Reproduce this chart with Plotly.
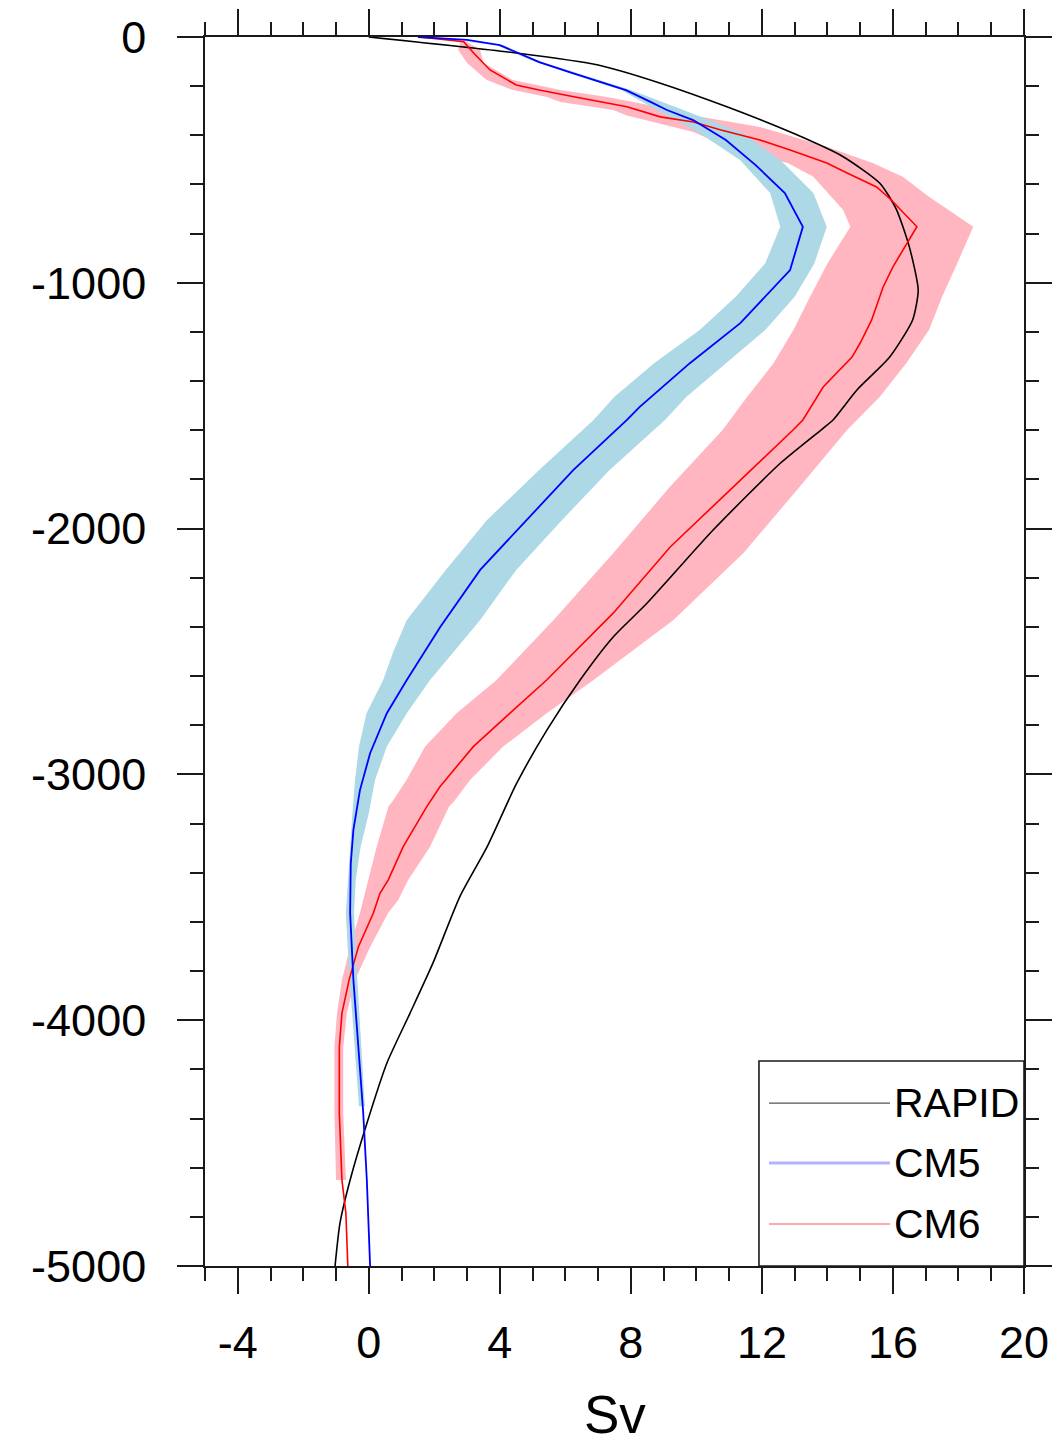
import plotly.graph_objects as go

# ---------------- data ----------------
# RAPID (black line): depth (m, negative) and transport (Sv)
rapid_depth = [0, -65, -114, -188, -284, -392, -487, -595, -700, -854, -1029, -1151,
               -1302, -1436, -1558, -1599, -1734, -2006, -2304, -2441, -2616, -2819,
               -3040, -3295, -3497, -3767, -3971, -4175, -4420, -4650, -4826, -5000]
rapid_sv = [0.0, 4.5, 7.0, 8.9, 10.93, 12.96, 14.48, 15.6, 16.1, 16.5, 16.77, 16.6,
            15.9, 14.9, 14.17, 13.8, 12.56, 10.51, 8.49, 7.46, 6.45, 5.44,
            4.5, 3.61, 2.78, 1.96, 1.26, 0.55, -0.06, -0.57, -0.88, -1.03]

# CM5 ensemble mean (blue line)
cm5_depth = [0, -12, -33, -69, -102, -146, -216, -264, -297, -338, -419, -520, -635,
             -772, -948, -1164, -1327, -1505, -1558, -1762, -1993, -2168, -2400,
             -2616, -2751, -2914, -3064, -3226, -3362, -3564, -3836, -4109, -4378,
             -4650, -5000]
cm5_sv = [1.5, 3.0, 4.0, 4.6, 5.2, 6.2, 7.85, 8.6, 9.1, 9.9, 10.9, 11.8, 12.7,
          13.25, 12.86, 11.34, 9.8, 8.27, 7.88, 6.24, 4.62, 3.40, 2.18,
          1.16, 0.55, 0.04, -0.27, -0.47, -0.55, -0.57, -0.47, -0.32, -0.17,
          -0.06, 0.04]

# CM6 ensemble mean (red line)
cm6_depth = [0, -19, -65, -134, -195, -216, -244, -268, -284, -325, -346, -378, -419,
             -460, -513, -553, -610, -663, -772, -935, -1017, -1151, -1245, -1302,
             -1424, -1558, -1599, -1831, -2075, -2344, -2616, -2751, -2887, -3050,
             -3131, -3294, -3430, -3484, -3564, -3702, -3836, -3971, -4109, -4378,
             -4650, -4784, -5000]
cm6_sv = [1.55, 2.9, 3.2, 3.7, 4.5, 5.2, 6.3, 7.3, 7.88, 8.9, 9.91, 10.75, 11.94,
          12.86, 13.98, 14.6, 15.5, 15.95, 16.73, 16.0, 15.7, 15.35, 15.0, 14.75,
          13.87, 13.25, 12.95, 11.12, 9.2, 7.46, 5.43, 4.31, 3.19, 2.17,
          1.77, 1.05, 0.59, 0.34, 0.14, -0.32, -0.6, -0.82, -0.9, -0.9,
          -0.82, -0.7, -0.64]

# CM5 spread band (light blue): lower / upper bounds
cm5_band_depth = [0, -33, -69, -102, -146, -216, -297, -392, -500, -635, -772, -921,
                  -1057, -1192, -1328, -1464, -1558, -1762, -1965, -2168, -2372,
                  -2500, -2616, -2751, -2887, -3023, -3158, -3294, -3430, -3564,
                  -3767, -4000, -4350]
cm5_band_lo = [1.5, 3.9, 4.5, 5.1, 6.1, 7.7, 8.8, 10.1, 11.33, 12.25, 12.56, 12.1,
               11.2, 10.1, 8.7, 7.5, 6.86, 5.2, 3.61, 2.35, 1.16,
               0.75, 0.44, -0.07, -0.3, -0.42, -0.5, -0.57, -0.62, -0.7,
               -0.62, -0.5, -0.3]
cm5_band_hi = [1.6, 4.1, 4.7, 5.3, 6.35, 8.0, 9.6, 11.43, 12.56, 13.57, 13.98, 13.6,
               13.0, 12.1, 10.9, 9.7, 9.04, 7.35, 5.9, 4.5, 3.4,
               2.6, 1.87, 1.16, 0.55, 0.19, 0.0, -0.25, -0.4, -0.45,
               -0.38, -0.28, -0.12]

# CM6 spread band (pink): lower / upper bounds
cm6_band_depth = [-20, -53, -106, -175, -216, -244, -264, -297, -319, -366, -387,
                  -446, -514, -569, -650, -704, -772, -921, -1057, -1192, -1328,
                  -1464, -1599, -1829, -2100, -2372, -2616, -2751, -2887, -3023,
                  -3110, -3131, -3294, -3430, -3511, -3564, -3702, -3836, -3971,
                  -4109, -4378, -4650]
cm6_band_lo = [2.8, 2.73, 3.0, 3.6, 4.4, 5.44, 5.85, 7.46, 7.88, 9.3, 9.91,
               10.93, 12.8, 13.57, 14.1, 14.48, 14.7, 14.0, 13.47, 12.96, 12.35,
               11.55, 10.8, 9.2, 7.46, 5.64, 3.9, 2.68, 1.72, 1.15,
               0.72, 0.6, 0.24, -0.02, -0.17, -0.27, -0.57, -0.82, -0.97,
               -1.05, -1.05, -1.0]
cm6_band_hi = [3.0, 3.4, 3.5, 4.4, 5.85, 7.27, 8.07, 9.3, 9.91, 11.94, 12.5,
               13.98, 15.4, 16.3, 17.1, 17.7, 18.45, 17.96, 17.5, 17.1, 16.4,
               15.6, 14.6, 13.16, 11.43, 9.3, 6.86, 5.43, 4.1, 3.09,
               2.6, 2.45, 1.87, 1.2, 0.9, 0.59, 0.04, -0.42, -0.67,
               -0.78, -0.78, -0.7]

# axis ticks
x_tick_vals = [-4, 0, 4, 8, 12, 16, 20]
x_tick_text = ["-4", "0", "4", "8", "12", "16", "20"]
y_tick_vals = [0, -1000, -2000, -3000, -4000, -5000]
y_tick_text = ["0", "-1000", "-2000", "-3000", "-4000", "-5000"]

legend_names = ["RAPID", "CM5", "CM6"]
x_title = "Sv"

# ---------------- styles ----------------
FONT = "Liberation Sans, Arial, Helvetica, sans-serif"
AX = "#1a1a1a"
PINK = "#ffb6c1"
LIGHTBLUE = "#add8e6"

fig = go.Figure()

# bands (closed polygons built from lower/upper bounds)
fig.add_trace(go.Scatter(
    x=cm6_band_lo + cm6_band_hi[::-1],
    y=cm6_band_depth + cm6_band_depth[::-1],
    fill="toself", fillcolor=PINK, line=dict(width=0), mode="lines",
    hoverinfo="skip", showlegend=False))
fig.add_trace(go.Scatter(
    x=cm5_band_lo + cm5_band_hi[::-1],
    y=cm5_band_depth + cm5_band_depth[::-1],
    fill="toself", fillcolor=LIGHTBLUE, line=dict(width=0), mode="lines",
    hoverinfo="skip", showlegend=False))

# lines
fig.add_trace(go.Scatter(x=rapid_sv, y=rapid_depth, mode="lines",
                         line=dict(color="#000000", width=1.6, shape="spline", smoothing=0.6),
                         name=legend_names[0], showlegend=False))
fig.add_trace(go.Scatter(x=cm6_sv, y=cm6_depth, mode="lines",
                         line=dict(color="#ff0000", width=1.6),
                         name=legend_names[2], showlegend=False))
fig.add_trace(go.Scatter(x=cm5_sv, y=cm5_depth, mode="lines",
                         line=dict(color="#0000ff", width=1.8),
                         name=legend_names[1], showlegend=False))

axis_common = dict(
    showgrid=False, zeroline=False, automargin=False,
    showline=True, linecolor=AX, linewidth=1.6,
    mirror="allticks",
    ticks="outside", ticklen=26, tickwidth=1.6, tickcolor=AX,
    tickfont=dict(family=FONT, size=45, color="#000000"),
)

fig.update_xaxes(
    range=[-5, 20], tickmode="array", tickvals=x_tick_vals, ticktext=x_tick_text,
    minor=dict(ticks="outside", ticklen=13, tickwidth=1.6, tickcolor=AX,
               tickmode="linear", tick0=0, dtick=1),
    ticklabelstandoff=10,
    **axis_common)
fig.update_yaxes(
    range=[-5000, 0], tickmode="array", tickvals=y_tick_vals, ticktext=y_tick_text,
    minor=dict(ticks="outside", ticklen=13, tickwidth=1.6, tickcolor=AX,
               tickmode="linear", tick0=0, dtick=200),
    ticklabelstandoff=22,
    **axis_common)

# manual legend (NCL-style box in lower right)
shapes = [dict(type="rect", xref="paper", yref="paper", x0=0.6764, x1=1.0,
               y0=0.0, y1=0.1668, line=dict(color=AX, width=1.6),
               fillcolor="white", layer="above")]
legend_styles = [("#555555", 1.2), ("#b3b3ff", 3.0), ("#ff8c8c", 1.6)]
legend_ys = [0.1326, 0.0838, 0.0342]
annotations = []
for name, (col, w), yy in zip(legend_names, legend_styles, legend_ys):
    shapes.append(dict(type="line", xref="paper", yref="paper", x0=0.6886, x1=0.8364,
                       y0=yy, y1=yy, line=dict(color=col, width=w), layer="above"))
    annotations.append(dict(xref="paper", yref="paper", x=0.8390, y=yy, text=name,
                            showarrow=False, xanchor="left", yanchor="middle",
                            font=dict(family=FONT, size=41, color="#000000")))

annotations.append(dict(xref="paper", yref="paper", x=0.5, y=-0.1465, text=x_title,
                        showarrow=False, xanchor="center", yanchor="bottom",
                        font=dict(family=FONT, size=53, color="#000000")))

# the page adds an 8px body margin, so the figure is drawn 8px smaller
fig.update_layout(
    width=1056, height=1439, autosize=False,
    margin=dict(l=197, r=40, t=29, b=181, pad=0, autoexpand=False),
    paper_bgcolor="white", plot_bgcolor="white",
    showlegend=False,
    shapes=shapes, annotations=annotations,
)

fig.write_html("out.html")
